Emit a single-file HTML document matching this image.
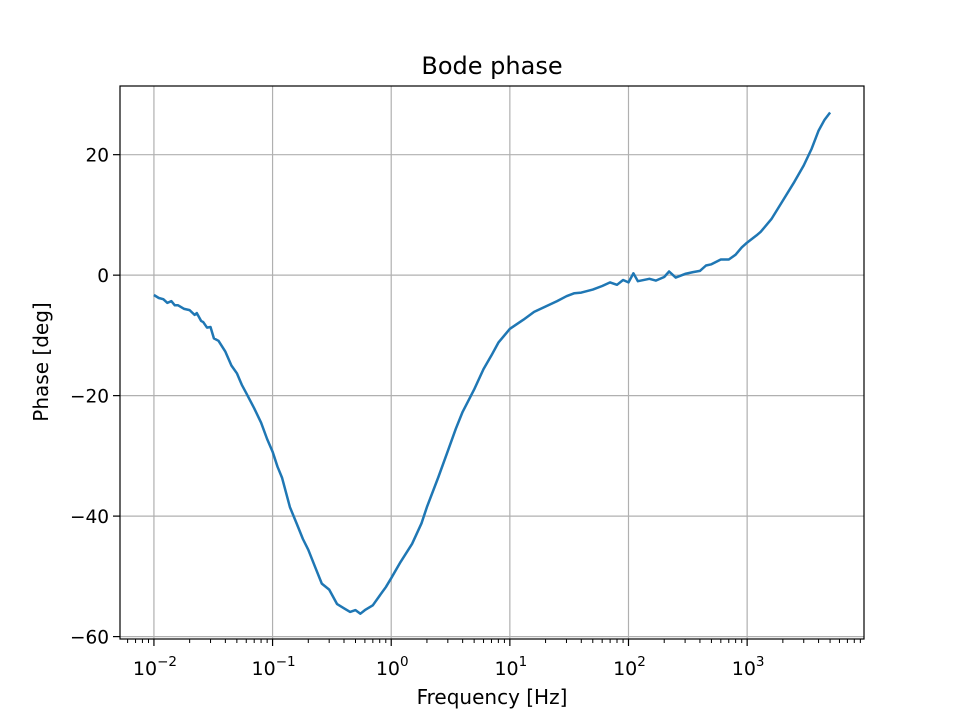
<!DOCTYPE html>
<html><head><meta charset="utf-8"><style>
body{margin:0;background:#fff;}
svg text{font-family:"DejaVu Sans","Liberation Sans",sans-serif;fill:#000;}
</style></head><body>
<svg width="960" height="720" xmlns="http://www.w3.org/2000/svg">
<rect width="960" height="720" fill="#fff"/>
<g id="grid"></g>
<g id="ticks"></g>
<path id="line" fill="none" stroke="#1f77b4" stroke-width="2.5" stroke-linejoin="round"/>
<rect x="120" y="86" width="744" height="553" fill="none" stroke="#000" stroke-width="1.2"/>
<text x="492" y="74" font-size="24" text-anchor="middle">Bode phase</text>
<text x="492" y="704" font-size="20" text-anchor="middle">Frequency [Hz]</text>
<text transform="translate(48,362) rotate(-90)" font-size="20" text-anchor="middle">Phase [deg]</text>
</svg>
<script>
const freqs=[0.01,0.011,0.012,0.013,0.014,0.015,0.016,0.018,0.02,0.022,0.023,0.025,0.026,0.028,0.03,0.032,0.035,0.04,0.045,0.05,0.055,0.06,0.07,0.08,0.09,0.1,0.11,0.12,0.14,0.16,0.18,0.2,0.23,0.26,0.3,0.35,0.4,0.45,0.5,0.55,0.6,0.7,0.8,0.9,1,1.2,1.5,1.8,2,2.5,3,3.5,4,5,6,7,8,10,13,16,20,25,30,35,40,50,60,70,80,90,100,110,120,150,170,200,220,250,300,350,400,450,500,600,700,800,900,1000,1200,1300,1600,2000,2500,3000,3500,4000,4500,5000];
const phase=[-3.3,-3.8,-4.0,-4.6,-4.3,-5.0,-5.0,-5.6,-5.8,-6.6,-6.3,-7.6,-7.8,-8.7,-8.6,-10.5,-10.9,-12.7,-15.0,-16.3,-18.2,-19.6,-22.1,-24.5,-27.2,-29.3,-31.8,-33.6,-38.5,-41.3,-43.8,-45.6,-48.6,-51.2,-52.2,-54.6,-55.3,-55.9,-55.6,-56.2,-55.6,-54.8,-53.2,-51.8,-50.3,-47.6,-44.6,-41.2,-38.5,-33.5,-29.2,-25.5,-22.7,-19.0,-15.6,-13.3,-11.2,-8.9,-7.4,-6.1,-5.2,-4.3,-3.5,-3.0,-2.9,-2.4,-1.8,-1.2,-1.6,-0.8,-1.2,0.3,-1.0,-0.6,-0.9,-0.3,0.6,-0.4,0.2,0.5,0.7,1.6,1.8,2.6,2.6,3.4,4.6,5.4,6.6,7.2,9.3,12.4,15.5,18.2,21.0,24.0,25.8,27.0];
const xTickVals=[-2,-1,0,1,2,3];
const yTickVals=[-60,-40,-20,0,20];
const yTickLabels=["\u221260","\u221240","\u221220","0","20"];
const L=120,R=864,T=86,B=639;
const xmin=-2.286,xmax=3.985,ymin=-60.4,ymax=31.4;
const X=v=>L+(Math.log10(v)-xmin)/(xmax-xmin)*(R-L);
const XL=l=>L+(l-xmin)/(xmax-xmin)*(R-L);
const Y=v=>B-(v-ymin)/(ymax-ymin)*(B-T);
const NS="http://www.w3.org/2000/svg";
const grid=document.getElementById('grid'),ticks=document.getElementById('ticks');
function mk(tag,attrs,parent){const e=document.createElementNS(NS,tag);for(const k in attrs)e.setAttribute(k,attrs[k]);parent.appendChild(e);return e;}
xTickVals.forEach(p=>{
  const x=XL(p);
  const g=mk('line',{x1:x,x2:x,y1:T,y2:B,stroke:'#b0b0b0','stroke-width':1.2},grid);
  
  
  const t=mk('line',{x1:x,x2:x,y1:B,y2:B+7,stroke:'#000','stroke-width':1.2},ticks);
  
  
  const tx=mk('text',{x:x+1,y:B+36,'font-size':19,'text-anchor':'middle'},ticks);
  
  
  tx.textContent='10';
  const s=mk('tspan',{dy:-9,'font-size':13.5},tx);s.textContent=(p<0?'\u2212':'')+Math.abs(p);
});
for(let d=-3;d<=3;d++){for(let m=2;m<=9;m++){const l=d+Math.log10(m);if(l<xmin||l>xmax)continue;const x=XL(l);
  const t=mk('line',{x1:x,x2:x,y1:B,y2:B+4,stroke:'#000','stroke-width':1},ticks);
  
  }}
yTickVals.forEach((v,i)=>{
  const y=Y(v);
  const g=mk('line',{x1:L,x2:R,y1:y,y2:y,stroke:'#b0b0b0','stroke-width':1.2},grid);
  
  
  const t=mk('line',{x1:L-7,x2:L,y1:y,y2:y,stroke:'#000','stroke-width':1.2},ticks);
  
  
  const tx=mk('text',{x:L-11,y:y+7,'font-size':18.5,'text-anchor':'end'},ticks);
  
  
  tx.textContent=yTickLabels[i];
});
document.getElementById('line').setAttribute('d',freqs.map((f,i)=>(i?'L':'M')+X(f).toFixed(1)+','+Y(phase[i]).toFixed(1)).join(''));
</script>
</body></html>
